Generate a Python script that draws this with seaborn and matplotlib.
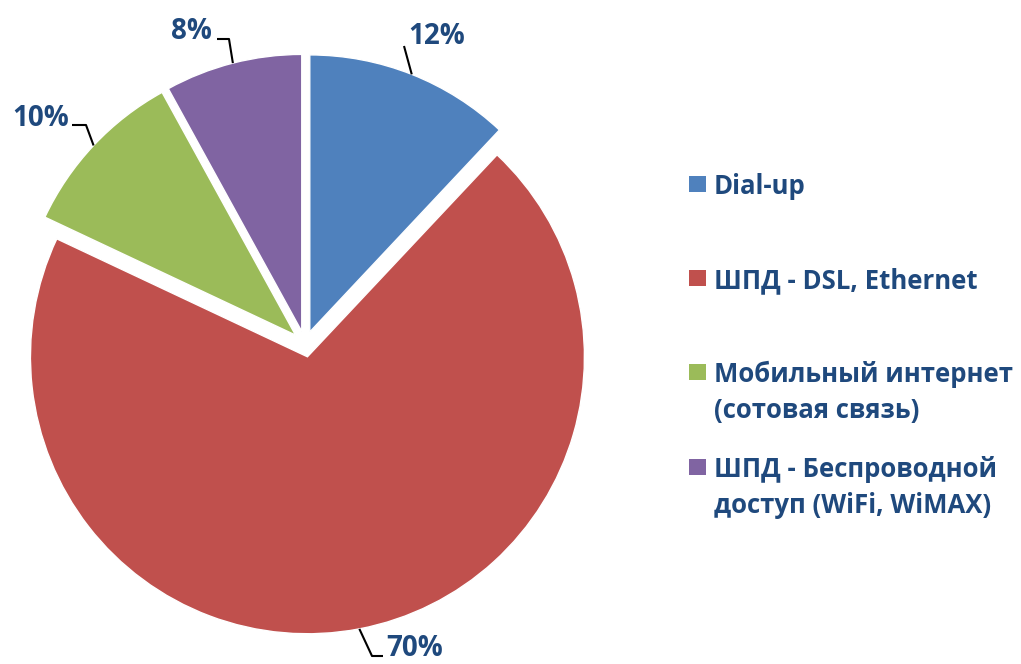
import numpy as np
import matplotlib
matplotlib.use("Agg")
import matplotlib.pyplot as plt
import seaborn as sns
from matplotlib.patches import Rectangle

# ---- data ----
categories = ["Dial-up", "ШПД - DSL, Ethernet",
              "Мобильный интернет\n(сотовая связь)",
              "ШПД - Беспроводной\nдоступ (WiFi, WiMAX)"]
values = [12, 70, 10, 8]
pct_labels = ["12%", "70%", "10%", "8%"]
colors = ["#4F81BD", "#C0504D", "#9BBB59", "#8064A2"]

sns.set_theme(style="white")
plt.rcParams["font.family"] = ["Open Sans", "DejaVu Sans"]
TXT = "#1F497D"

W, H = 1021, 664
fig = plt.figure(figsize=(W / 100, H / 100), dpi=100)
ax = fig.add_axes([0, 0, 1, 1])

cx, cy, R = 305, H - 344, 277
EXP = 13  # pixel offset of each exploded wedge
ax.pie(values, colors=colors, startangle=90, counterclock=False,
       explode=[EXP] * len(values), center=(cx, cy),
       radius=R, wedgeprops=dict(linewidth=1, edgecolor="white"))
ax.set_xlim(0, W)
ax.set_ylim(0, H)
ax.set_aspect("equal")
ax.axis("off")

# leader start points on wedge outer arcs
tot = sum(values)
cum = np.cumsum(values)
angles = [np.deg2rad(90 - 360 * (c - v / 2) / tot) for c, v in zip(cum, values)]

# label layout (pixels from top): text left/baseline, leader points after arc
layout = [
    dict(t=(408, 44), pts=[(404, 46)]),
    dict(t=(386, 656), pts=[(372, 656), (383, 656)]),
    dict(t=(12, 126), pts=[(86, 125), (72, 125)]),
    dict(t=(171, 39), pts=[(229, 39), (217, 39)]),
]
for a, lab, lay in zip(angles, pct_labels, layout):
    ox = cx + EXP * np.cos(a)
    oy = cy + EXP * np.sin(a)
    sx, sy = ox + R * np.cos(a), oy + R * np.sin(a)
    xs = [sx] + [p[0] for p in lay["pts"]]
    ys = [sy] + [H - p[1] for p in lay["pts"]]
    ax.plot(xs, ys, color="black", lw=1.5, solid_capstyle="butt", zorder=3)
    ax.text(lay["t"][0], H - lay["t"][1], lab, ha="left", va="baseline",
            fontsize=20, fontweight="bold", color=TXT)

# legend
leg_base = [194, 288, 382, 477]
for col, lab, y in zip(colors, categories, leg_base):
    ax.add_patch(Rectangle((689, H - y + 2), 17, 16, color=col, lw=0))
    for i, line in enumerate(lab.split("\n")):
        ax.text(714, H - (y + 36 * i), line, ha="left", va="baseline",
                fontsize=18.5, fontweight="bold", color=TXT)

fig.savefig("out.png", dpi=100)
